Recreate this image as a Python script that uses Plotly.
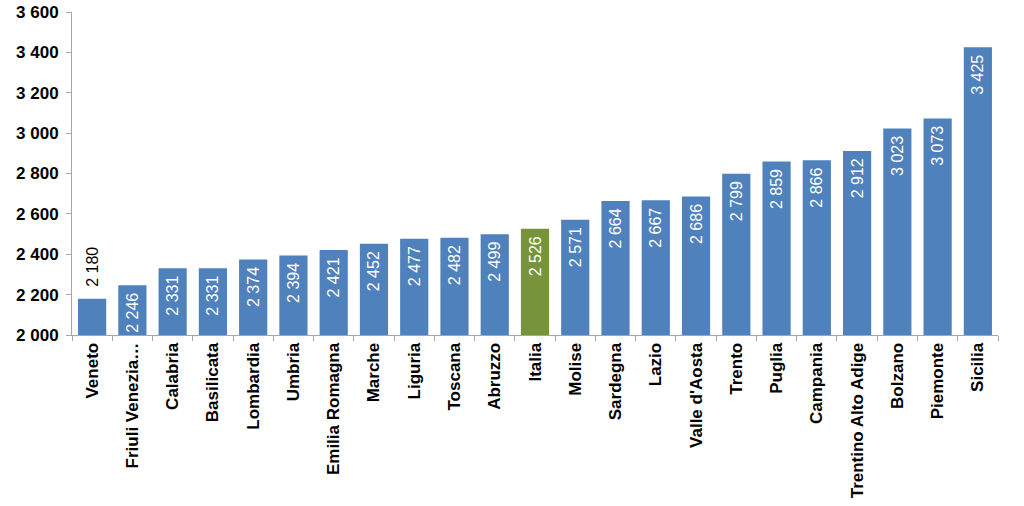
import plotly.graph_objects as go

categories = ["Veneto", "Friuli Venezia…", "Calabria", "Basilicata", "Lombardia", "Umbria",
              "Emilia Romagna", "Marche", "Liguria", "Toscana", "Abruzzo", "Italia", "Molise",
              "Sardegna", "Lazio", "Valle d'Aosta", "Trento", "Puglia", "Campania",
              "Trentino Alto Adige", "Bolzano", "Piemonte", "Sicilia"]
values = [2180, 2246, 2331, 2331, 2374, 2394, 2421, 2452, 2477, 2482, 2499, 2526, 2571,
          2664, 2667, 2686, 2799, 2859, 2866, 2912, 3023, 3073, 3425]
y_ticks = [2000, 2200, 2400, 2600, 2800, 3000, 3200, 3400, 3600]

BLUE = "#4F81BD"
GREEN = "#77933C"
NB = "\u00a0"
colors = [GREEN if c == "Italia" else BLUE for c in categories]
positions = ["outside" if v < 2200 else "inside" for v in values]
textcolors = ["#000000" if p == "outside" else "#FFFFFF" for p in positions]
templates = [(NB * 2 + "%{y:,}") if p == "outside" else ("%{y:,}" + NB) for p in positions]

fig = go.Figure(go.Bar(
    x=categories, y=values,
    marker=dict(color=colors, line=dict(width=0)),
    texttemplate=templates,
    textposition=positions,
    textangle=-90,
    insidetextanchor="end",
    constraintext="none",
    textfont=dict(family="Liberation Sans, Arial", size=16, color=textcolors),
    outsidetextfont=dict(family="Liberation Sans, Arial", size=16, color="#000000"),
    cliponaxis=False,
    width=0.7,
))

fig.update_layout(
    width=1024, height=506,
    margin=dict(l=72, r=26, t=12, b=171),
    plot_bgcolor="white", paper_bgcolor="white",
    separators=", ",
    showlegend=False,
    font=dict(family="Liberation Sans, Arial", color="#000000"),
)
fig.update_yaxes(
    range=[2000, 3600], tickvals=y_ticks, tickformat=",d",
    showgrid=False, zeroline=False, automargin=False,
    showline=True, linecolor="#A6A6A6", linewidth=1,
    ticks="outside", ticklen=5, tickcolor="#A6A6A6",
    tickfont=dict(family="Liberation Sans, Arial", size=17, color="#000000", weight="bold"),
    ticklabelstandoff=4,
)
fig.update_xaxes(
    type="category", tickangle=-90, automargin=False,
    showgrid=False, showline=True, linecolor="#A6A6A6", linewidth=1,
    ticks="outside", ticklen=5, tickcolor="#A6A6A6", tickson="boundaries",
    tickfont=dict(family="Liberation Sans, Arial", size=17, color="#000000", weight="bold"),
)

fig.write_html("out.html")
